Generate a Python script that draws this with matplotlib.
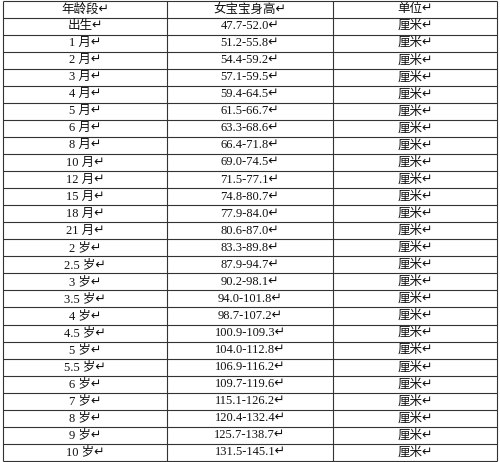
import matplotlib
matplotlib.use("Agg")
import matplotlib.pyplot as plt

headers = ["年龄段", "女宝宝身高", "单位"]
ages = ["出生", "1 月", "2 月", "3 月", "4 月", "5 月", "6 月", "8 月", "10 月", "12 月",
        "15 月", "18 月", "21 月", "2 岁", "2.5 岁", "3 岁", "3.5 岁", "4 岁", "4.5 岁",
        "5 岁", "5.5 岁", "6 岁", "7 岁", "8 岁", "9 岁", "10 岁"]
heights = ["47.7-52.0", "51.2-55.8", "54.4-59.2", "57.1-59.5", "59.4-64.5", "61.5-66.7",
           "63.3-68.6", "66.4-71.8", "69.0-74.5", "71.5-77.1", "74.8-80.7", "77.9-84.0",
           "80.6-87.0", "83.3-89.8", "87.9-94.7", "90.2-98.1", "94.0-101.8", "98.7-107.2",
           "100.9-109.3", "104.0-112.8", "106.9-116.2", "109.7-119.6", "115.1-126.2",
           "120.4-132.4", "125.7-138.7", "131.5-145.1"]
unit = "厘米"

fam = ["Liberation Serif", "Noto Sans CJK SC", "DejaVu Sans"]

fig = plt.figure(figsize=(5, 4.62), dpi=100)
ax = fig.add_axes([0, 0, 1, 1])
ax.set_xlim(0, 500)
ax.set_ylim(462, 0)
ax.axis("off")

col_x = [3, 167, 333, 497]
top, header_h, bottom = 1, 16.5, 461
n = len(ages)
row_h = (bottom - top - header_h) / n
ys = [top] + [top + header_h + i * row_h for i in range(n + 1)]

ax.hlines(ys, col_x[0], col_x[-1], color="#333333", lw=0.8)
ax.vlines(col_x, top, bottom, color="#333333", lw=0.8)

centers = [(col_x[i] + col_x[i + 1]) / 2 for i in range(3)]

def cell(x, y, s):
    ax.text(x, y, s + "↵", ha="center", va="center", fontsize=9, family=fam,
            color="#111111")

hy = (ys[0] + ys[1]) / 2
for c, h in zip(centers, headers):
    cell(c, hy, h)
for i in range(n):
    y = (ys[i + 1] + ys[i + 2]) / 2
    cell(centers[0], y, ages[i])
    cell(centers[1], y, heights[i])
    cell(centers[2], y, unit)

fig.savefig("out.png", dpi=100)
